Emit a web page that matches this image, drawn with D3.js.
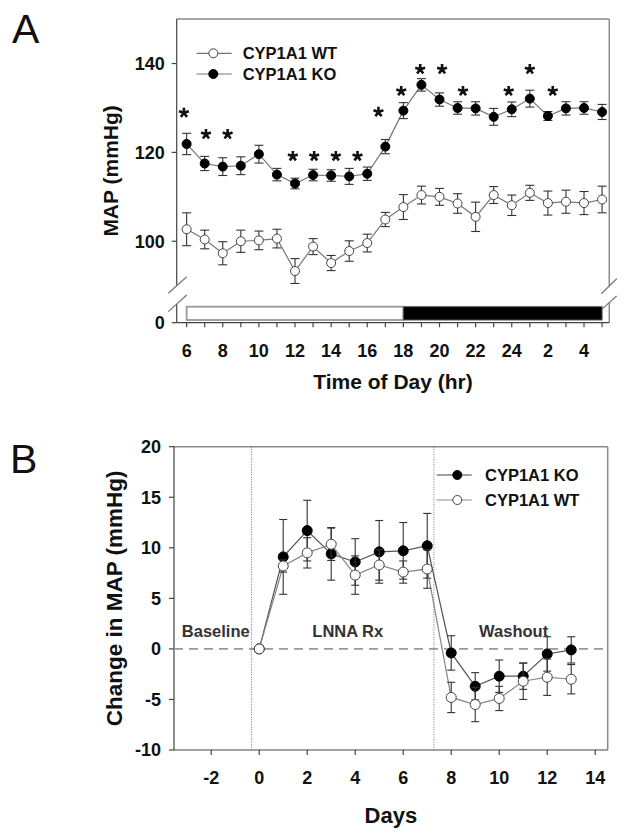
<!DOCTYPE html>
<html><head><meta charset="utf-8">
<script src="https://cdn.jsdelivr.net/npm/d3@7"></script>
<style>
html,body{margin:0;padding:0;background:#fff;}
svg{display:block;}
text{font-family:"Liberation Sans",Arial,sans-serif;}
</style></head>
<body>
<svg id="chart" width="629" height="839"></svg>
<script>
// ---------- Panel A data ----------
const hoursA = [6,7,8,9,10,11,12,13,14,15,16,17,18,19,20,21,22,23,24,25,26,27,28,29];
const hourTicks = [6,8,10,12,14,16,18,20,22,24,26,28];
const hourTickLabels = ["6","8","10","12","14","16","18","20","22","24","2","4"];
const wtA    = [102.7,100.4,97.3,100.0,100.2,100.6,93.3,98.8,95.1,97.8,99.6,104.9,107.7,110.4,110.0,108.5,105.5,110.4,108.1,110.9,108.6,108.9,108.6,109.4];
const wtAErr = [3.7,2.1,2.6,2.5,2.1,2.1,2.8,1.8,1.7,2.3,2.0,1.6,2.8,2.0,1.9,2.2,3.3,1.9,2.3,1.7,2.7,2.6,2.6,3.0];
const koA    = [121.9,117.5,116.8,117.0,119.6,115.0,113.0,114.9,114.8,114.6,115.2,121.3,129.4,135.2,131.9,130.0,129.9,128.0,129.7,132.1,128.2,129.9,130.0,129.1];
const koAErr = [2.4,1.6,2.0,2.0,2.0,1.4,1.2,1.3,1.3,1.8,1.5,1.6,1.8,1.4,1.5,1.4,1.5,1.9,1.65,1.9,1.0,1.5,1.4,1.7];
const yTicksA = [100,120,140];
const starHours  = [5.85,7.07,8.27,11.88,13.06,14.26,15.46,16.62,17.88,18.93,20.14,21.3,23.83,25.0,26.27];
const starLevels = [128.9,124.1,124.1,119.15,119.15,119.15,119.15,129.1,133.8,138.7,138.7,133.8,133.8,138.7,133.8];
const lightStart = 6, lightEnd = 18, darkEnd = 29;

// ---------- Panel B data ----------
const daysB  = [0,1,2,3,4,5,6,7,8,9,10,11,12,13];
const koB    = [0,9.1,11.7,9.4,8.6,9.6,9.7,10.2,-0.4,-3.7,-2.7,-2.7,-0.5,-0.1];
const koBErr = [0,3.7,3.0,2.6,2.3,3.1,2.8,3.2,1.7,1.35,1.6,1.3,1.7,1.3];
const wtB    = [0,8.2,9.5,10.35,7.3,8.3,7.6,7.9,-4.8,-5.5,-4.9,-3.2,-2.8,-3.0];
const wtBErr = [0,0.6,1.5,1.6,1.9,1.5,1.1,1.9,1.5,1.7,1.2,1.8,1.8,1.45];
const xTicksB = [-2,0,2,4,6,8,10,12,14];
const yTicksB = [-10,-5,0,5,10,15,20];
const phaseBounds = [-0.32, 7.28];
const phaseLabels = ["Baseline","LNNA Rx","Washout"];
const phaseLabelDays = [-1.81, 3.69, 10.6];
const phaseLabelLevel = 1.2;

const svg = d3.select("#chart");
const AX = "#444", FR = "#8a8a8a";
const FONT_T = 18, FONT_TITLE = 21;

// panel letters
svg.append("text").attr("x",12).attr("y",43).attr("font-size",41).attr("fill","#111").text("A");
svg.append("text").attr("x",10).attr("y",473).attr("font-size",41).attr("fill","#111").text("B");

// ================= PANEL A =================
const xA = d3.scaleLinear().domain([5.45,29.4]).range([176.7,609.3]);
const yA = d3.scaleLinear().domain([90,150]).range([285.7,19.1]);
const yLow = d3.scaleLinear().domain([0,4.2]).range([322.7,304]);
const gA = svg.append("g");
const L = xA.range()[0], R = xA.range()[1];

gA.append("line").attr("x1",L).attr("x2",R).attr("y1",yA(150)).attr("y2",yA(150)).attr("stroke",FR).attr("stroke-width",1.5);
gA.append("line").attr("x1",R).attr("x2",R).attr("y1",yA(150)).attr("y2",yA(90)+0.7).attr("stroke",FR).attr("stroke-width",1.5);
gA.append("line").attr("x1",R).attr("x2",R).attr("y1",yLow(4.5)).attr("y2",yLow(0)).attr("stroke",FR).attr("stroke-width",1.5);
gA.append("line").attr("x1",L).attr("x2",L).attr("y1",yA(150)).attr("y2",yA(90)).attr("stroke",AX).attr("stroke-width",1.2);
gA.append("line").attr("x1",L).attr("x2",L).attr("y1",yLow(4.2)).attr("y2",yLow(0)).attr("stroke",AX).attr("stroke-width",1.2);
gA.append("line").attr("x1",L).attr("x2",R).attr("y1",yLow(0)).attr("y2",yLow(0)).attr("stroke",AX).attr("stroke-width",1.2);
[[L-8.4,yA(90)+7.6,L+10,yA(90)-9],[L-8.4,yLow(4.2)+7.6,L+10,yLow(4.2)-9]].forEach(d=>{
  gA.append("line").attr("x1",d[0]).attr("y1",d[1]).attr("x2",d[2]).attr("y2",d[3]).attr("stroke","#777").attr("stroke-width",1.2);
});
[[R-8,yA(90)+8,R+7.4,yA(90)-7],[R-7.6,yLow(4.5)+6.7,R+7.4,yLow(4.5)-6.6]].forEach(d=>{
  gA.append("line").attr("x1",d[0]).attr("y1",d[1]).attr("x2",d[2]).attr("y2",d[3]).attr("stroke","#777").attr("stroke-width",1.2);
});

yTicksA.forEach(v=>{
  gA.append("line").attr("x1",L-5).attr("x2",L).attr("y1",yA(v)).attr("y2",yA(v)).attr("stroke",AX).attr("stroke-width",1.2);
  gA.append("text").attr("x",L-12).attr("y",yA(v)).attr("dy","0.36em").attr("text-anchor","end")
    .attr("font-size",FONT_T).attr("font-weight","bold").attr("fill","#111").text(v);
});
gA.append("line").attr("x1",L-5).attr("x2",L).attr("y1",yLow(0)).attr("y2",yLow(0)).attr("stroke",AX).attr("stroke-width",1.2);
gA.append("text").attr("x",L-12).attr("y",yLow(0)).attr("dy","0.36em").attr("text-anchor","end")
  .attr("font-size",FONT_T).attr("font-weight","bold").attr("fill","#111").text("0");

hoursA.forEach(h=>{
  gA.append("line").attr("x1",xA(h)).attr("x2",xA(h)).attr("y1",yLow(0)).attr("y2",yLow(0)+4.5).attr("stroke",AX).attr("stroke-width",1.2);
});
hourTicks.forEach((h,i)=>{
  gA.append("text").attr("x",xA(h)).attr("y",yLow(0)+34).attr("text-anchor","middle")
    .attr("font-size",FONT_T).attr("font-weight","bold").attr("fill","#111").text(hourTickLabels[i]);
});
gA.append("text").attr("x",(L+R)/2).attr("y",389).attr("text-anchor","middle")
  .attr("font-size",FONT_TITLE).attr("font-weight","bold").attr("fill","#111").text("Time of Day (hr)");
gA.append("text").attr("transform",`translate(118,${(yA(150)+yLow(0))/2}) rotate(-90)`).attr("text-anchor","middle")
  .attr("font-size",FONT_TITLE).attr("font-weight","bold").attr("fill","#111").text("MAP (mmHg)");

const barTop = yLow(0)-16, barH = 13.3;
gA.append("rect").attr("x",xA(lightStart)).attr("y",barTop).attr("width",xA(lightEnd)-xA(lightStart)).attr("height",barH)
  .attr("fill","#fff").attr("stroke","#999").attr("stroke-width",1.8);
gA.append("rect").attr("x",xA(lightEnd)).attr("y",barTop).attr("width",xA(darkEnd)-xA(lightEnd)).attr("height",barH)
  .attr("fill","#000").attr("stroke","#555").attr("stroke-width",1);

function drawSeries(g, xs, ys, errs, x, y, filled, lineColor, r, cap){
  const line = d3.line().x((d,i)=>x(xs[i])).y(d=>y(d));
  g.append("path").attr("d",line(ys)).attr("fill","none").attr("stroke",lineColor).attr("stroke-width",1.2);
  ys.forEach((v,i)=>{
    if(errs[i]>0){
      const xx=x(xs[i]), y1=y(v+errs[i]), y2=y(v-errs[i]);
      g.append("line").attr("x1",xx).attr("x2",xx).attr("y1",y1).attr("y2",y2).attr("stroke","#333").attr("stroke-width",1.1);
      g.append("line").attr("x1",xx-cap).attr("x2",xx+cap).attr("y1",y1).attr("y2",y1).attr("stroke","#333").attr("stroke-width",1.1);
      g.append("line").attr("x1",xx-cap).attr("x2",xx+cap).attr("y1",y2).attr("y2",y2).attr("stroke","#333").attr("stroke-width",1.1);
    }
  });
  ys.forEach((v,i)=>{
    g.append("circle").attr("cx",x(xs[i])).attr("cy",y(v)).attr("r",r)
      .attr("fill",filled?"#000":"#fff").attr("stroke",filled?"#000":"#444").attr("stroke-width",1);
  });
}
drawSeries(gA, hoursA, wtA, wtAErr, xA, yA, false, "#777", 4.5, 4.5);
drawSeries(gA, hoursA, koA, koAErr, xA, yA, true, "#777", 4.5, 4.5);

// stars: 5-armed bold asterisks
function asteriskPath(cx, cy, len){
  const p = d3.path();
  for(let k=0;k<5;k++){
    const a = -Math.PI/2 + k*2*Math.PI/5;
    p.moveTo(cx, cy);
    p.lineTo(cx+len*Math.cos(a), cy+len*Math.sin(a));
  }
  return p.toString();
}
starHours.forEach((h,i)=>{
  gA.append("path").attr("d",asteriskPath(xA(h), yA(starLevels[i]), 5.2))
    .attr("stroke","#111").attr("stroke-width",2.6).attr("fill","none");
});

[["CYP1A1 WT",false,53.3],["CYP1A1 KO",true,74]].forEach(d=>{
  gA.append("line").attr("x1",196.7).attr("x2",231.7).attr("y1",d[2]).attr("y2",d[2]).attr("stroke","#777").attr("stroke-width",1.2);
  gA.append("circle").attr("cx",213.3).attr("cy",d[2]).attr("r",4.5).attr("fill",d[1]?"#000":"#fff").attr("stroke",d[1]?"#000":"#444");
  gA.append("text").attr("x",242.7).attr("y",d[2]).attr("dy","0.36em").attr("font-size",16.5).attr("font-weight","bold").attr("fill","#111").text(d[0]);
});

// ================= PANEL B =================
const xB = d3.scaleLinear().domain([-3.55,14.52]).range([174,607.7]);
const yB = d3.scaleLinear().domain([-10,20]).range([750,446.7]);
const gB = svg.append("g");
const BL = xB.range()[0], BR = xB.range()[1], BT = yB(20), BBm = yB(-10);
gB.append("line").attr("x1",BL).attr("x2",BR).attr("y1",BT).attr("y2",BT).attr("stroke",FR).attr("stroke-width",1.5);
gB.append("line").attr("x1",BR).attr("x2",BR).attr("y1",BT).attr("y2",BBm).attr("stroke",FR).attr("stroke-width",1.5);
gB.append("line").attr("x1",BL).attr("x2",BL).attr("y1",BT).attr("y2",BBm).attr("stroke",AX).attr("stroke-width",1.2);
gB.append("line").attr("x1",BL).attr("x2",BR).attr("y1",BBm).attr("y2",BBm).attr("stroke",AX).attr("stroke-width",1.2);

yTicksB.forEach(v=>{
  gB.append("line").attr("x1",BL-5).attr("x2",BL).attr("y1",yB(v)).attr("y2",yB(v)).attr("stroke",AX).attr("stroke-width",1.2);
  gB.append("text").attr("x",BL-13).attr("y",yB(v)).attr("dy","0.36em").attr("text-anchor","end")
    .attr("font-size",FONT_T).attr("font-weight","bold").attr("fill","#111").text(v);
});
xTicksB.forEach(v=>{
  gB.append("line").attr("x1",xB(v)).attr("x2",xB(v)).attr("y1",BBm).attr("y2",BBm+5).attr("stroke",AX).attr("stroke-width",1.2);
  gB.append("text").attr("x",xB(v)).attr("y",BBm+34).attr("text-anchor","middle")
    .attr("font-size",FONT_T).attr("font-weight","bold").attr("fill","#111").text(v);
});
gB.append("text").attr("x",(BL+BR)/2).attr("y",823).attr("text-anchor","middle")
  .attr("font-size",FONT_TITLE+1).attr("font-weight","bold").attr("fill","#111").text("Days");
gB.append("text").attr("transform",`translate(122,${(BT+BBm)/2}) rotate(-90)`).attr("text-anchor","middle")
  .attr("font-size",22.5).attr("font-weight","bold").attr("fill","#111").text("Change in MAP (mmHg)");

gB.append("line").attr("x1",BL).attr("x2",BR).attr("y1",yB(0)).attr("y2",yB(0)).attr("stroke","#999").attr("stroke-width",1.6).attr("stroke-dasharray","9,6");
phaseBounds.forEach(d=>{
  gB.append("line").attr("x1",xB(d)).attr("x2",xB(d)).attr("y1",BT).attr("y2",BBm).attr("stroke","#666").attr("stroke-width",0.9).attr("stroke-dasharray","1,1.5");
});
phaseLabels.forEach((t,i)=>{
  gB.append("text").attr("x",xB(phaseLabelDays[i])).attr("y",yB(phaseLabelLevel)).attr("text-anchor","middle")
    .attr("font-size",16.5).attr("font-weight","bold").attr("fill","#333").text(t);
});

drawSeries(gB, daysB, koB, koBErr, xB, yB, true, "#555", 5, 4);
drawSeries(gB, daysB, wtB, wtBErr, xB, yB, false, "#888", 5, 4);

[["CYP1A1 KO",true,475,"#444"],["CYP1A1 WT",false,500,"#888"]].forEach(d=>{
  gB.append("line").attr("x1",436.7).attr("x2",471.7).attr("y1",d[2]).attr("y2",d[2]).attr("stroke",d[3]).attr("stroke-width",1.2);
  gB.append("circle").attr("cx",457.3).attr("cy",d[2]).attr("r",4.5).attr("fill",d[1]?"#000":"#fff").attr("stroke",d[1]?"#000":"#444");
  gB.append("text").attr("x",485).attr("y",d[2]).attr("dy","0.36em").attr("font-size",16.5).attr("font-weight","bold").attr("fill","#111").text(d[0]);
});
</script>
</body></html>
